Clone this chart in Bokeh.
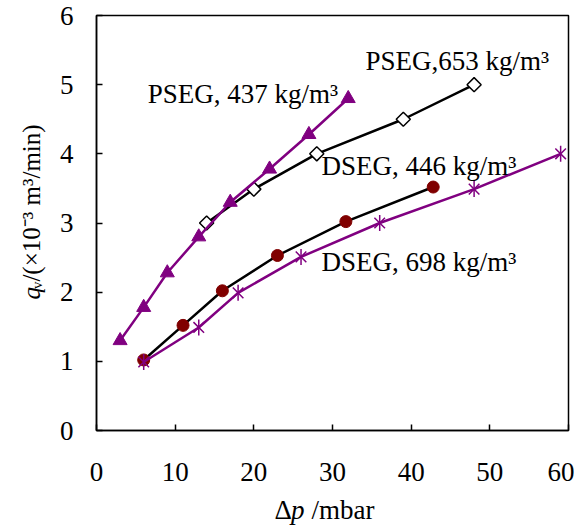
import math
from bokeh.plotting import figure
from bokeh.layouts import column, row
from bokeh.models import Range1d
from bokeh.core.properties import value
from bokeh.embed import file_html
from bokeh.resources import INLINE

# ---- data ----
pseg437_x = [3, 6, 9, 13, 17, 22, 27, 32]
pseg437_y = [1.3, 1.78, 2.28, 2.8, 3.3, 3.78, 4.28, 4.8]
pseg653_x = [14, 20, 28, 39, 48]
pseg653_y = [3.0, 3.49, 4.0, 4.5, 5.0]
dseg446_x = [6, 11, 16, 23, 31.7, 42.8]
dseg446_y = [1.02, 1.52, 2.02, 2.53, 3.02, 3.52]
dseg698_x = [6, 13, 18, 26, 36, 48, 59]
dseg698_y = [0.99, 1.49, 1.99, 2.51, 3.0, 3.49, 4.0]

x_ticks = [0, 10, 20, 30, 40, 50, 60]
y_ticks = [0, 1, 2, 3, 4, 5, 6]

series_labels = ["PSEG, 437 kg/m\u00b3", "PSEG,653 kg/m\u00b3",
                 "DSEG, 446 kg/m\u00b3", "DSEG, 698 kg/m\u00b3"]
label_x = [6.5, 34.2, 28.6, 28.6]
label_y = [4.87, 5.335, 3.83, 2.44]

FONT = "Liberation Serif"
PURPLE = "#800080"
DARKRED = "#800000"

H = 494          # height of the plot row
YL_W = 50        # width of the y-title strip
XL_H = 35        # height of the x-title strip
W = 574

def blank(width, height):
    f = figure(width=width, height=height, x_range=Range1d(0, width), y_range=Range1d(0, height),
               output_backend="svg", toolbar_location=None,
               x_axis_location=None, y_axis_location=None,
               min_border=0, min_border_left=0, min_border_right=0,
               min_border_top=0, min_border_bottom=0)
    f.xgrid.visible = False
    f.ygrid.visible = False
    f.outline_line_color = None
    f.background_fill_color = "white"
    f.border_fill_color = "white"
    return f

p = figure(width=W - YL_W, height=H, x_range=Range1d(0, 60), y_range=Range1d(0, 6),
           output_backend="svg", toolbar_location=None,
           min_border_left=96 - YL_W, min_border_right=6, min_border_top=15, min_border_bottom=64)
p.xgrid.visible = False
p.ygrid.visible = False
p.outline_line_color = "black"
p.outline_line_width = 1.5
p.outline_line_alpha = 1.0
p.background_fill_color = "white"
p.border_fill_color = "white"

for ax in (p.xaxis, p.yaxis):
    ax.axis_line_color = "black"
    ax.axis_line_width = 1.5
    ax.major_tick_in = 6
    ax.major_tick_out = 0
    ax.major_tick_line_color = "black"
    ax.major_tick_line_width = 1.5
    ax.minor_tick_line_color = None
    ax.major_label_text_font = FONT
    ax.major_label_text_font_size = "27px"
    ax.major_label_text_color = "black"
p.xaxis.ticker = x_ticks
p.yaxis.ticker = y_ticks
p.xaxis.major_label_standoff = 32
p.yaxis.major_label_standoff = 23

# series
p.line(pseg653_x, pseg653_y, line_color="black", line_width=2.5)
p.scatter(pseg653_x, pseg653_y, marker="square", angle=0.785, size=10,
          fill_color="white", line_color="black", line_width=1.5)
p.line(dseg446_x, dseg446_y, line_color="black", line_width=2.5)
p.scatter(dseg446_x, dseg446_y, marker="circle", size=12,
          fill_color=DARKRED, line_color=DARKRED)
p.line(dseg698_x, dseg698_y, line_color=PURPLE, line_width=2.5)
p.scatter(dseg698_x, dseg698_y, marker="x", size=15,
          line_color=PURPLE, line_width=1.5)
p.scatter(dseg698_x, dseg698_y, marker="dash", angle=math.pi / 2, size=16,
          line_color=PURPLE, line_width=1.5)
p.line(pseg437_x, pseg437_y, line_color=PURPLE, line_width=2.5)
p.scatter(pseg437_x, pseg437_y, marker="triangle", size=14,
          fill_color=PURPLE, line_color=PURPLE)

p.text(x=label_x, y=label_y, text=series_labels, text_font=value(FONT),
       text_font_size="27px", text_color="black",
       text_baseline="middle", text_align="left")

# y-axis title strip: "q v/(×10-3 m3/min)", rotated, italic q
yl = blank(YL_W, H)
pieces = [("q", 338, 30.5, "25px", "italic"),
          ("\u1d65/(\u00d710\u207b\u00b3 m\u00b3/min)", 325.5, 30.5, "25px", "normal")]
for txt, cy, cx, fs, style in pieces:
    yl.text(x=[cx], y=[H - cy], text=[txt], angle=math.pi / 2, text_font=value(FONT),
            text_font_size=fs, text_font_style=style, text_color="black",
            text_baseline="middle", text_align="left")

# x-axis title strip: "Δp /mbar", italic p
xl = blank(W, XL_H)
for txt, cx, style in [("\u0394", 274, "normal"), ("p", 290.5, "italic"), ("/mbar", 311, "normal")]:
    xl.text(x=[cx], y=[20], text=[txt], text_font=value(FONT), text_font_size="27px",
            text_font_style=style, text_color="black",
            text_baseline="middle", text_align="left")

layout = column(row(yl, p, spacing=0), xl, spacing=0)
open("out.html", "w").write(file_html(layout, INLINE))
